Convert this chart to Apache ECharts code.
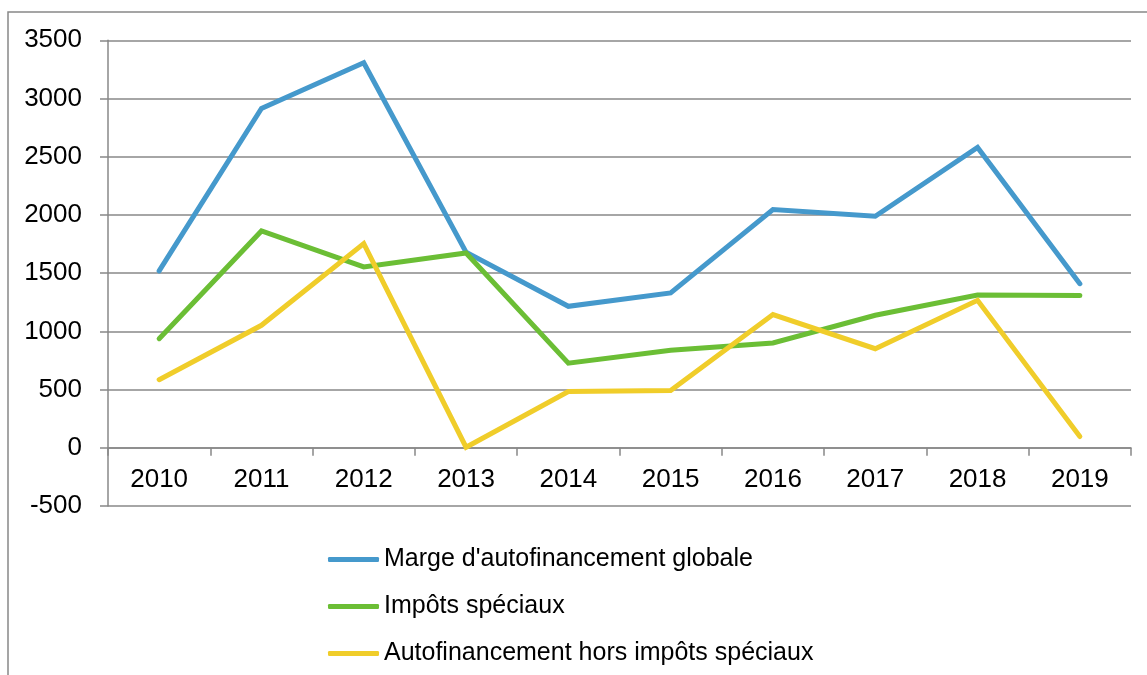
<!DOCTYPE html>
<html>
<head>
<meta charset="utf-8">
<script src="https://cdn.jsdelivr.net/npm/echarts@6/dist/echarts.min.js"></script>
<style>
    body { margin: 0; background: #fff; }
    #chart { width: 1147px; height: 675px; }
</style>
</head>
<body>
<div id="chart"></div>
<script>
    // données
    const years = ['2010', '2011', '2012', '2013', '2014', '2015', '2016', '2017', '2018', '2019'];
    const margeGlobale = [1520, 2915, 3307, 1680, 1215, 1330, 2047, 1989, 2580, 1410];
    const impotsSpeciaux = [937, 1862, 1553, 1673, 727, 837, 900, 1138, 1312, 1307];
    const horsImpots = [585, 1052, 1754, 5, 484, 493, 1144, 851, 1267, 97];
    const seriesNames = ["Marge d'autofinancement globale", 'Impôts spéciaux', 'Autofinancement hors impôts spéciaux'];
    const seriesColors = ['#4599cc', '#6bbe35', '#f0cd2a'];
    const yMin = -500, yMax = 3500, yStep = 500;

    const font = "'Liberation Sans', Arial, sans-serif";
    const gray = '#888888';

    let myChart = echarts.init(document.getElementById('chart'));

    // hauteur de la zone de tracé, pour placer l'axe des années sur le zéro
    const plotTop = 40.3, plotBottom = 169;
    const plotH = 675 - plotTop - plotBottom;
    const zeroOffset = -plotH * (0 - yMin) / (yMax - yMin);

    function lineSerie(i, data) {
        return {
            name: seriesNames[i],
            type: 'line',
            data: data,
            symbol: 'none',
            color: seriesColors[i],
            lineStyle: { width: 5, color: seriesColors[i], cap: 'round', join: 'miter' },
            z: 3 + i
        };
    }

    var options = {
        animation: false,
        textStyle: { fontFamily: font },
        graphic: [{
            type: 'rect',
            shape: { x: 8, y: 12, width: 1300, height: 800 },
            style: { fill: 'none', stroke: gray, lineWidth: 1.5 },
            silent: true
        }],
        grid: {
            left: 108,
            right: 16,
            top: plotTop,
            bottom: plotBottom,
            containLabel: false
        },
        legend: {
            orient: 'vertical',
            left: 328,
            top: 547,
            padding: 0,
            icon: 'roundRect',
            itemWidth: 51,
            itemHeight: 5,
            itemGap: 22,
            textStyle: { fontSize: 25, color: '#000', fontFamily: font },
            data: seriesNames
        },
        xAxis: {
            type: 'category',
            data: years,
            boundaryGap: true,
            offset: zeroOffset,
            axisLine: { onZero: false, lineStyle: { color: gray, width: 1.5 } },
            axisTick: { show: true, length: 8, lineStyle: { color: gray, width: 1.5 } },
            axisLabel: { fontSize: 26, color: '#000', margin: 19, fontFamily: font },
            splitLine: { show: false }
        },
        yAxis: {
            type: 'value',
            min: yMin,
            max: yMax,
            interval: yStep,
            axisLine: { show: true, lineStyle: { color: gray, width: 1.5 } },
            axisTick: { show: true, length: 8, lineStyle: { color: gray, width: 1.5 } },
            axisLabel: {
                fontSize: 26, color: '#000', margin: 26, fontFamily: font,
                formatter: function (v) { return String(v); }
            },
            splitLine: { show: true, lineStyle: { color: gray, width: 1.5 } }
        },
        series: [
            lineSerie(0, margeGlobale),
            lineSerie(1, impotsSpeciaux),
            lineSerie(2, horsImpots)
        ]
    };
    myChart.setOption(options);
</script>
</body>
</html>
